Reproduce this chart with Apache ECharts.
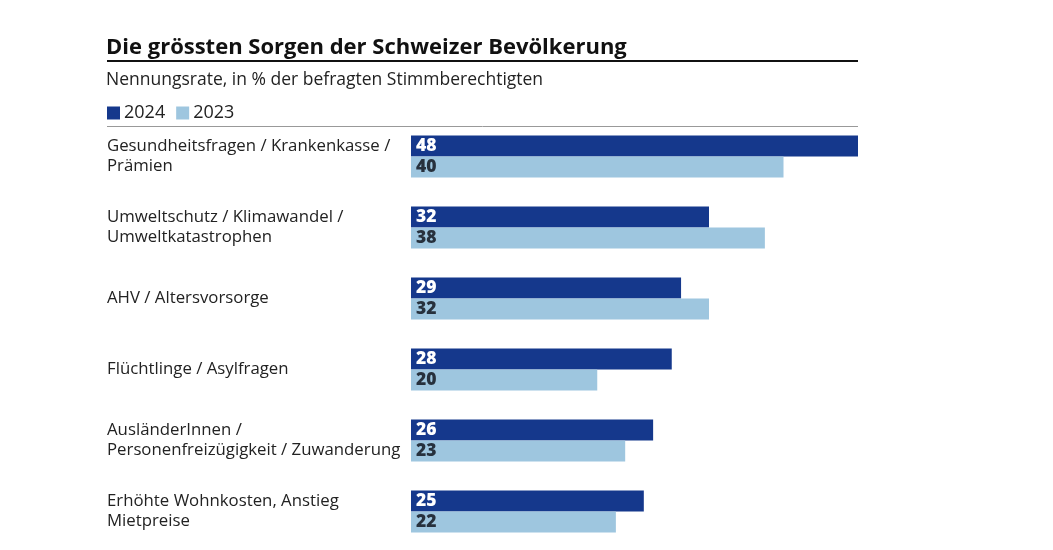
<!DOCTYPE html>
<html>
<head>
<meta charset="utf-8">
<script src="https://cdn.jsdelivr.net/npm/echarts@6/dist/echarts.min.js"></script>
<style>
  html, body { margin: 0; padding: 0; background: #fff; }
  #chart { width: 1053px; height: 550px; }
</style>
</head>
<body>
<div id="chart"></div>
<script>
var categories = [
  'Gesundheitsfragen / Krankenkasse /\nPrämien',
  'Umweltschutz / Klimawandel /\nUmweltkatastrophen',
  'AHV / Altersvorsorge',
  'Flüchtlinge / Asylfragen',
  'AusländerInnen /\nPersonenfreizügigkeit / Zuwanderung',
  'Erhöhte Wohnkosten, Anstieg\nMietpreise'
];
var values2024 = [48, 32, 29, 28, 26, 25];
var values2023 = [40, 38, 32, 20, 23, 22];

var font = '"Open Sans", "Noto Sans", sans-serif';

var chart = echarts.init(document.getElementById('chart'));

function valueLabel(color) {
  return {
    show: true,
    position: 'insideLeft',
    distance: 5,
    color: color,
    fontFamily: font,
    fontWeight: 800,
    fontSize: 17.5
  };
}

chart.setOption({
  animation: false,
  textStyle: { fontFamily: font },
  title: {
    text: 'Die grössten Sorgen der Schweizer Bevölkerung',
    subtext: 'Nennungsrate, in % der befragten Stimmberechtigten',
    left: 106,
    top: 37,
    padding: 0,
    itemGap: 12,
    textStyle: { fontSize: 22, fontWeight: 'bold', color: '#111', fontFamily: font },
    subtextStyle: { fontSize: 17.5, color: '#222', fontFamily: font }
  },
  legend: {
    left: 107,
    top: 104,
    padding: 0,
    itemWidth: 13,
    itemHeight: 13,
    itemGap: 11,
    icon: 'rect',
    textStyle: { fontSize: 18, color: '#222', fontFamily: font, padding: [0, 0, 0, -1] },
    data: ['2024', '2023']
  },
  graphic: [
    { type: 'line', shape: { x1: 107, y1: 61, x2: 858, y2: 61 }, style: { stroke: '#111', lineWidth: 2 } },
    { type: 'line', shape: { x1: 107, y1: 126.5, x2: 858, y2: 126.5 }, style: { stroke: '#999', lineWidth: 1 } }
  ],
  grid: { left: 411, right: 195, top: 121, bottom: 3 },
  xAxis: {
    type: 'value',
    min: 0,
    max: 48,
    show: false
  },
  yAxis: {
    type: 'category',
    inverse: true,
    data: categories,
    axisLine: { show: false },
    axisTick: { show: false },
    axisLabel: {
      align: 'left',
      margin: 304,
      fontSize: 16.8,
      lineHeight: 20,
      color: '#222',
      fontFamily: font
    }
  },
  series: [
    {
      name: '2024',
      type: 'bar',
      data: values2024,
      barWidth: 21,
      barGap: '0%',
      itemStyle: { color: '#15388c' },
      label: valueLabel('#fff')
    },
    {
      name: '2023',
      type: 'bar',
      data: values2023,
      barWidth: 21,
      itemStyle: { color: '#9ec6df' },
      label: valueLabel('#27313d')
    }
  ]
});
</script>
</body>
</html>
